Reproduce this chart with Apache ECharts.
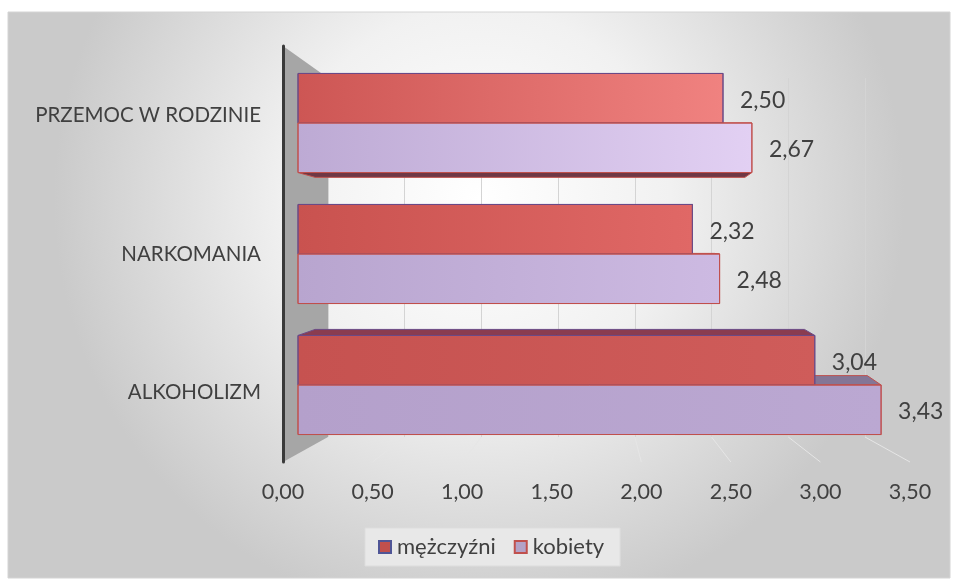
<!DOCTYPE html>
<html>
<head>
<meta charset="utf-8">
<script src="https://cdn.jsdelivr.net/npm/echarts@6/dist/echarts.min.js"></script>
<style>
html,body{margin:0;padding:0;background:#ffffff;}
#chart{width:957px;height:581px;}
</style>
</head>
<body>
<div id="chart"></div>
<script>
// ---- data ----
const categories = ['PRZEMOC W RODZINIE', 'NARKOMANIA', 'ALKOHOLIZM'];
const seriesNames = ['mężczyźni', 'kobiety'];
const men = [2.50, 2.32, 3.04];
const women = [2.67, 2.48, 3.43];
const axisMin = 0, axisMax = 3.5, axisStep = 0.5;

// ---- style ----
const FONT = 'Lato, "Open Sans", sans-serif';
const TEXT = '#404040';
const BAR_FRAC = 0.378;          // bar thickness as share of category band
const VP = [620, 245];            // vanishing point for depth faces
const KX = 0.947, KY = 0.933;     // depth scale of back face
const frontStyles = [
  { // men
    stroke: '#6b4a86',
    grad: [['#cd5654', '#f08280'], ['#c9524f', '#e06866'], ['#c65250', '#cf5c5a']],
    depth: ['#8a3c50', '#7a3444']
  },
  { // women
    stroke: '#c0504d',
    grad: [['#bdaad4', '#e2d0f3'], ['#b8a5cf', '#cdbae2'], ['#b4a0cb', '#bba8d2']],
    depth: ['#847696', '#6e3846']
  }
];

const fmt = v => v.toFixed(2).replace('.', ',');

function geom(si, api) {
  const c = api.value(1), v = api.value(0);
  const base = api.coord([0, c]);
  const end = api.coord([v, c]);
  const band = api.size([0, 1])[1];
  const h = band * BAR_FRAC;
  const yT = si === 0 ? base[1] - h : base[1];
  return { c, v, x0: base[0], x1: end[0], yT, yB: yT + h, h };
}
const back = p => [VP[0] + KX * (p[0] - VP[0]), VP[1] + KY * (p[1] - VP[1])];

function depthRender(si) {
  return function (params, api) {
    const g = geom(si, api);
    const st = frontStyles[si];
    const topPts = [[g.x0, g.yT], [g.x1, g.yT], back([g.x1, g.yT]), back([g.x0, g.yT])];
    const botPts = [[g.x0, g.yB], [g.x1, g.yB], back([g.x1, g.yB]), back([g.x0, g.yB])];
    return {
      type: 'group',
      children: [
        { type: 'polygon', shape: { points: topPts }, style: { fill: st.depth[0], stroke: st.stroke, lineWidth: 1 } },
        { type: 'polygon', shape: { points: botPts }, style: { fill: st.depth[1], stroke: st.stroke, lineWidth: 1 } }
      ]
    };
  };
}
function frontRender(si) {
  return function (params, api) {
    const g = geom(si, api);
    const st = frontStyles[si];
    const gr = st.grad[g.c];
    return {
      type: 'group',
      children: [
        {
          type: 'rect',
          shape: { x: g.x0, y: g.yT, width: g.x1 - g.x0, height: g.h },
          style: {
            fill: { type: 'linear', x: 0, y: 0, x2: 1, y2: 0, colorStops: [{ offset: 0, color: gr[0] }, { offset: 1, color: gr[1] }] },
            stroke: st.stroke, lineWidth: 1
          }
        },
        {
          type: 'text',
          style: { text: fmt(g.v), x: g.x1 + 17, y: (g.yT + g.yB) / 2 + 2, fill: TEXT, font: '23px ' + FONT, verticalAlign: 'middle', align: 'left' }
        }
      ]
    };
  };
}

const valuesBySeries = [men, women];
const seriesList = [];
[0, 1].forEach(si => {
  seriesList.push({
    name: seriesNames[si], type: 'custom', xAxisIndex: 0, yAxisIndex: 0, z: 3,
    renderItem: depthRender(si),
    encode: { x: 0, y: 1 },
    data: valuesBySeries[si].map((v, i) => [v, categories[i]])
  });
});
[0, 1].forEach(si => {
  seriesList.push({
    name: seriesNames[si], type: 'custom', xAxisIndex: 0, yAxisIndex: 0, z: 4,
    renderItem: frontRender(si),
    encode: { x: 0, y: 1 },
    data: valuesBySeries[si].map((v, i) => [v, categories[i]])
  });
});

const chart = echarts.init(document.getElementById('chart'));
const option = {
  animation: false,
  textStyle: { fontFamily: FONT },
  graphic: [
    {
      type: 'rect', z: -100, silent: true,
      shape: { x: 8, y: 12, width: 942, height: 566 },
      style: {
        fill: { type: 'radial', x: 0.5, y: 0.33, r: 0.75, colorStops: [
          { offset: 0, color: '#ffffff' }, { offset: 0.45, color: '#f1f1f1' }, { offset: 1, color: '#cacaca' }] },
        stroke: '#d4d4d4', lineWidth: 1
      }
    },
    {
      type: 'polygon', z: 1, silent: true,
      shape: { points: [[283, 46], [328, 78], [328, 437], [283, 462]] },
      style: { fill: '#a6a6a6' }
    }
  ],
  legend: {
    left: 365, top: 528,
    padding: [8, 16, 8, 13],
    backgroundColor: '#e8e8e8',
    borderColor: '#dddddd', borderWidth: 1,
    icon: 'rect', itemWidth: 12, itemHeight: 12, itemGap: 18,
    textStyle: { color: TEXT, fontSize: 22, fontFamily: FONT, padding: [0, 0, 0, 1] },
    data: [
      { name: seriesNames[0], itemStyle: { color: '#c0504d', borderColor: '#4f5596', borderWidth: 2 } },
      { name: seriesNames[1], itemStyle: { color: '#b3a2c7', borderColor: '#c0504d', borderWidth: 2 } }
    ]
  },
  grid: [
    { left: 298, width: 595, top: 57.5, height: 393 },          // bars plane
    { left: 283, width: 627, top: 46, height: 416 },            // front plane (labels)
    { left: 328, width: 537, top: 78, height: 359 }             // back wall
  ],
  xAxis: [
    { gridIndex: 0, type: 'value', min: axisMin, max: axisMax, interval: axisStep, show: false },
    {
      gridIndex: 1, type: 'value', min: axisMin, max: axisMax, interval: axisStep,
      axisLine: { show: false }, axisTick: { show: false }, splitLine: { show: false },
      axisLabel: { color: TEXT, fontSize: 21.5, fontFamily: FONT, margin: 19, formatter: v => fmt(v) }
    },
    {
      gridIndex: 2, type: 'value', min: axisMin, max: axisMax, interval: axisStep,
      axisLine: { show: false }, axisTick: { show: false }, axisLabel: { show: false },
      splitLine: { show: true, lineStyle: { color: '#d4d4d4', width: 1 } }
    }
  ],
  yAxis: [
    { gridIndex: 0, type: 'category', data: categories, inverse: true, show: false },
    {
      gridIndex: 1, type: 'category', data: categories, inverse: true, z: 6,
      axisLine: { show: true, lineStyle: { color: '#3a3a3a', width: 3 } },
      axisTick: { show: false }, splitLine: { show: false },
      axisLabel: { color: TEXT, fontSize: 20.5, fontFamily: FONT, margin: 22 }
    },
    { gridIndex: 2, type: 'category', data: categories, inverse: true, show: false }
  ],
  series: seriesList
};
chart.setOption(option);

// floor lines: from back wall to front plane, through the two axes' scales
const floorLines = [];
for (let v = axisMin + axisStep; v <= axisMax + 1e-9; v += axisStep) {
  const xb = chart.convertToPixel({ xAxisIndex: 2 }, v);
  const xf = chart.convertToPixel({ xAxisIndex: 1 }, v);
  floorLines.push({
    type: 'line', z: 0, silent: true,
    shape: { x1: xb, y1: 437, x2: xf, y2: 462 },
    style: { stroke: '#e6e6e6', lineWidth: 1 }
  });
}
chart.setOption({ graphic: option.graphic.concat(floorLines) });
</script>
</body>
</html>
